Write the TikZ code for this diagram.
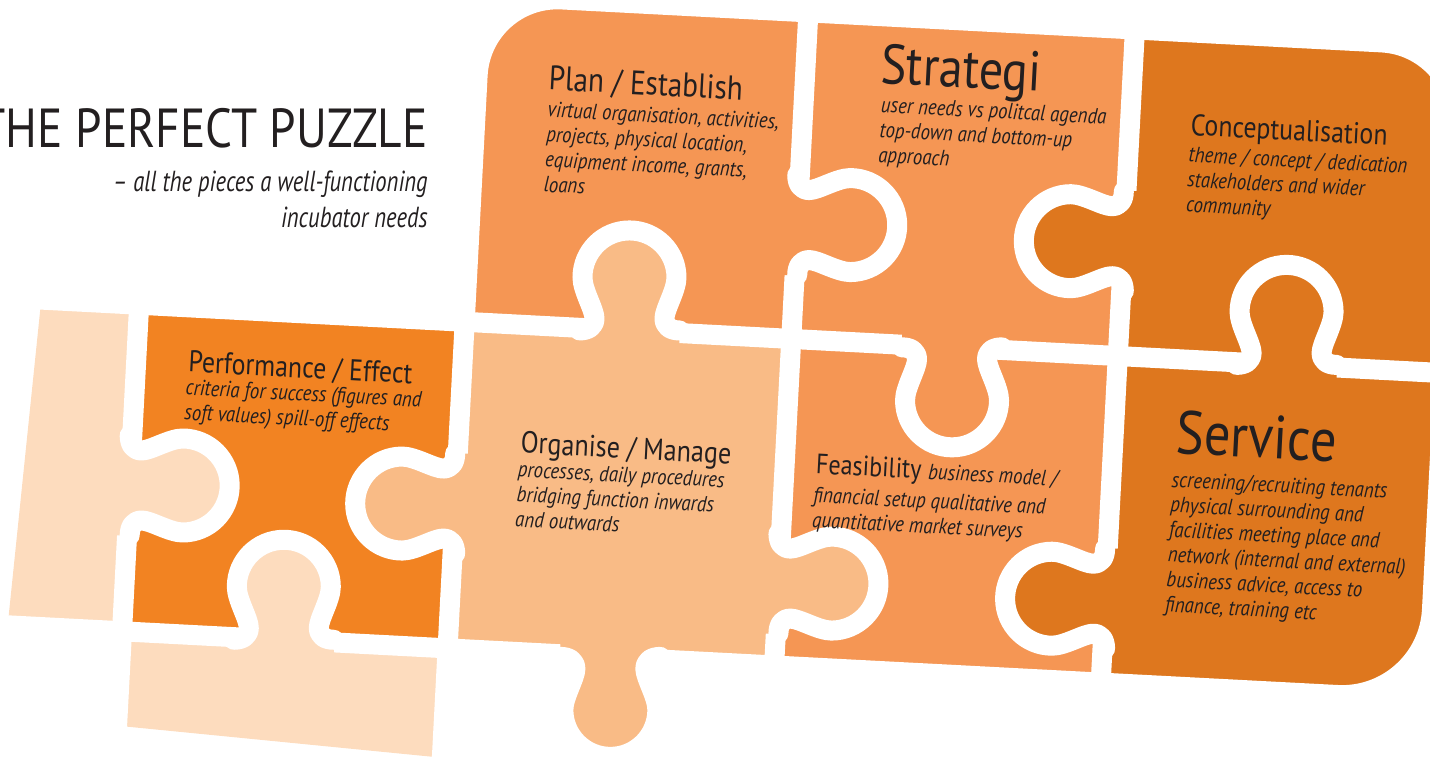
\documentclass[tikz,border=0pt]{standalone}
\usepackage{fontspec}
\setmainfont{PT Sans}[FakeStretch=0.86]
\newfontfamily\narrowsans{PT Sans}[Ligatures=TeX, FakeStretch=0.78]
\definecolor{ink}{HTML}{231F20}
\definecolor{midorange}{HTML}{F59654}
\definecolor{hotorange}{HTML}{F28322}
\definecolor{softorange}{HTML}{F9BB86}
\definecolor{deeporange}{HTML}{DE771E}
\definecolor{paleorange}{HTML}{FDDCBE}
\newcommand{\knobcurve}{.. controls (-41,0) and (-35,4) .. (-35,12) .. controls (-35,21) and (-47,40) .. (-47,53) arc[start angle=180, end angle=0, radius=47] .. controls (47,40) and (35,21) .. (35,12) .. controls (35,4) and (41,0) .. (50,0)}
\newcommand{\blurb}[1]{\begin{tabular}[t]{@{}l@{}}#1\end{tabular}}
\tikzset{
  cut/.style={draw=white, line width=10pt, line cap=round, line join=round},
  pics/knob/.style={code={
    \fill[#1] (-50,-15) -- (-50,0) \knobcurve -- (50,-15) -- cycle;
    \draw[cut] (-50,0) \knobcurve;
  }}
}
\begin{document}
\begin{tikzpicture}[x=0.5pt, y=0.5pt,
  head/.style={anchor=base west, inner sep=0pt, text=ink, transform shape, font=\fontsize{15}{18}\selectfont},
  desc/.style={anchor=base west, inner sep=0pt, text=ink, transform shape, font=\itshape\fontsize{11}{12.5}\selectfont}]
\useasboundingbox (0,0) rectangle (1430,758);
\node[anchor=base east, inner sep=0pt, text=ink, font=\fontsize{27.5}{30}\selectfont] (title) at (428,610) {THE PERFECT PUZZLE};
\node[anchor=base east, inner sep=0pt, text=ink, font=\narrowsans\itshape\fontsize{14.5}{16}\selectfont] (subtitle) at (428,566) {-- all the pieces a well-functioning};
\node[anchor=base east, inner sep=0pt, text=ink, font=\narrowsans\itshape\fontsize{14.5}{16}\selectfont] (subtitle2) at (428,530) {incubator needs};
\begin{scope}[rotate around={-3:(715,378)}]
\fill[paleorange] (38,423) -- (136,423) -- (136,96) -- (21.5,96) -- cycle;
\fill[paleorange] (136,96) -- (462,96) -- (462,-13.5) -- (136,1.5) -- cycle;
\fill[hotorange] (136,96) rectangle (462,423);
\fill[softorange] (462,96) rectangle (789,423);
\fill[midorange] (789,96) rectangle (1116,423);
\fill[deeporange] (1116,423) -- (1116,96) -- (1353,96) arc[start angle=-90, end angle=0, radius=90] -- (1443,423) -- cycle;
\fill[midorange] (462,423) -- (462,670) arc[start angle=180, end angle=90, radius=80] -- (789,750) -- (789,423) -- cycle;
\fill[midorange] (789,423) rectangle (1116,750);
\fill[deeporange] (1116,423) -- (1116,750) -- (1363,750) arc[start angle=90, end angle=0, radius=80] -- (1443,423) -- cycle;
\draw[cut] (462,-30) -- (462,670) arc[start angle=180, end angle=90, radius=80] -- (1363,750) arc[start angle=90, end angle=0, radius=80] -- (1443,186) arc[start angle=0, end angle=-90, radius=90] -- (0,96);
\draw[cut] (0,423) -- (1443,423);
\draw[cut] (136,-30) -- (136,423);
\draw[cut] (789,96) -- (789,750);
\draw[cut] (1116,96) -- (1116,750);
\pic[rotate=-90] at (789,537) {knob=midorange};
\pic[rotate=90] at (1116,538) {knob=deeporange};
\pic at (627,423) {knob=softorange};
\pic[rotate=180] at (950,423) {knob=midorange};
\pic at (1285,423) {knob=deeporange};
\pic[rotate=-90] at (136,242) {knob=paleorange};
\pic[rotate=90] at (462,241) {knob=softorange};
\pic[rotate=-90] at (789,178) {knob=softorange};
\pic[rotate=90] at (1116,180) {knob=deeporange};
\pic at (298,96) {knob=paleorange};
\pic[rotate=180] at (625,96) {knob=softorange};
\node[head, font=\fontsize{17}{20}\selectfont] (plan) at (533,659) {Plan / Establish};
\node[desc] (plan-text) at (533.5,632) {\blurb{virtual organisation, activities,\\projects, physical location,\\equipment income, grants,\\loans}};
\node[head, font=\fontsize{28}{32}\selectfont] (strategi) at (864,683) {Strategi};
\node[desc] (strategi-text) at (866,654) {\blurb{user needs vs politcal agenda\\top-down and bottom-up\\approach}};
\node[head] (concept) at (1176.5,647.5) {Conceptualisation};
\node[desc] (concept-text) at (1176,620.5) {\blurb{theme / concept / dedication\\stakeholders and wider\\community}};
\node[head] (effect) at (188,358.5) {Performance / Effect};
\node[desc] (effect-text) at (186.5,335.5) {\blurb{criteria for success (figures and\\soft values) spill-off effects}};
\node[head, font=\fontsize{15.2}{18}\selectfont] (manage) at (524,295) {Organise / Manage};
\node[desc] (manage-text) at (522.5,271) {\blurb{processes, daily procedures\\bridging function inwards\\and outwards}};
\node[head, font=\fontsize{14}{18}\selectfont] (feasibility) at (820,290) {Feasibility};
\node[desc, xshift=3pt] (feasibility-model) at (feasibility.base east) {business model /};
\node[desc] (feasibility-text) at (819,261) {\blurb{financial setup qualitative and\\quantitative market surveys}};
\node[head, font=\fontsize{30.5}{34}\selectfont] (service) at (1178,329) {Service};
\node[desc] (service-text) at (1176,295) {\blurb{screening/recruiting tenants\\physical surrounding and\\facilities meeting place and\\network (internal and external)\\business advice, access to\\finance, training etc}};
\end{scope}
\end{tikzpicture}
\end{document}
